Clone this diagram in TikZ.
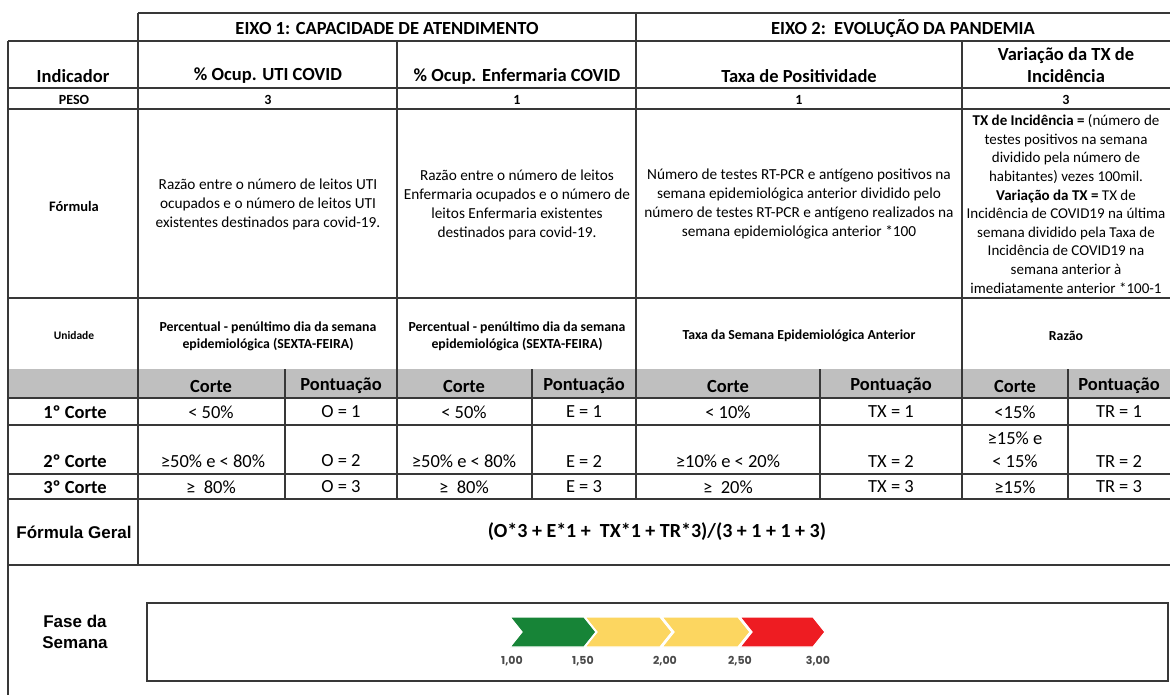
\documentclass[tikz,border=0pt]{standalone}
\usepackage{fontspec}
\setmainfont{Carlito}
\newfontfamily\arialfont{Liberation Sans}
\newfontfamily\escalafont{Poppins}
\usepackage{tikz}
\definecolor{linha}{HTML}{383838}
\definecolor{cinza}{HTML}{BFBFBF}
\definecolor{verde}{HTML}{178437}
\definecolor{amarelo}{HTML}{FCD660}
\definecolor{vermelho}{HTML}{EE1C22}
\definecolor{rotulo}{HTML}{4A4A4A}

\begin{document}
\begin{tikzpicture}[x=1pt,y=-1pt,
		cab/.style={font=\fontsize{18.5}{22}\selectfont\bfseries,align=center,inner sep=0pt},
		peso/.style={font=\fontsize{14}{16}\selectfont\bfseries,inner sep=0pt},
		texto/.style={font=\fontsize{15.3}{19}\selectfont,align=center,inner sep=0pt},
		unid/.style={font=\fontsize{13.8}{17}\selectfont\bfseries,align=center,inner sep=0pt},
		dado/.style={font=\fontsize{18.5}{23}\selectfont,align=center,inner sep=0pt},
		arial/.style={font=\arialfont\fontsize{17}{20.5}\selectfont\bfseries,align=center,inner sep=0pt},
		faixa/.style={draw=white,line width=1.2pt},
		escala/.style={font=\escalafont\fontsize{11}{13}\selectfont\bfseries,text=rotulo,inner sep=0pt}]
		\useasboundingbox (0,0) rectangle (1170,695);
		% faixa cinza dos cortes
		\fill [cinza] (8,369) rectangle (1170,398);
		% grade da tabela
		\draw [linha,line width=1.3pt]
		(138,13) -- (1170,13)
		(8,41) -- (1170,41)
		(8,88) -- (1170,88)
		(8,109) -- (1170,109)
		(8,298) -- (1170,298)
		(8,398) -- (1170,398)
		(8,425) -- (1170,425)
		(8,474) -- (1170,474)
		(8,499) -- (1170,499)
		(8,565) -- (1170,565)
		(8,41) -- (8,695)
		(138,13) -- (138,565)
		(636,13) -- (636,499)
		(397,41) -- (397,499)
		(962,41) -- (962,499)
		(285,369) -- (285,499)
		(532,369) -- (532,499)
		(820,369) -- (820,499)
		(1068,369) -- (1068,499);
		\draw [linha,line width=1.3pt] (147,603) rectangle (1168,681);
		% cabecalhos
		\node [cab] (eixoA) at (387,29) {EIXO 1: CAPACIDADE DE ATENDIMENTO};
		\node [cab] (eixoB) at (903,29) {EIXO 2:\ \ EVOLUÇÃO DA PANDEMIA};
		\node [cab] (indicador) at (73,76) {Indicador};
		\node [cab] (utiInd) at (268,76) {\% Ocup. UTI COVID};
		\node [cab] (enfInd) at (517,76) {\% Ocup. Enfermaria COVID};
		\node [cab] (taxInd) at (799,76) {Taxa de Positividade};
		\node [cab] (varInd) at (1066,65) {Variação da TX de\\Incidência};
		% pesos
		\node [peso] (pesoLbl) at (74,99.5) {PESO};
		\node [peso] (pesoUti) at (268,99.5) {3};
		\node [peso] (pesoEnf) at (517,99.5) {1};
		\node [peso] (pesoTax) at (799,99.5) {1};
		\node [peso] (pesoVar) at (1066,99.5) {3};
		% formulas
		\node [peso,font=\fontsize{14.5}{17}\selectfont\bfseries] (formLbl) at (74,206) {Fórmula};
		\node [texto] (formUti) at (268,204) {Razão entre o número de leitos UTI\\ocupados e o número de leitos UTI\\existentes destinados para covid-19.};
		\node [texto] (formEnf) at (517,205) {Razão entre o número de leitos\\Enfermaria ocupados e o número de\\leitos Enfermaria existentes\\destinados para covid-19.};
		\node [texto] (formTax) at (799,204) {Número de testes RT-PCR e antígeno positivos na\\semana epidemiológica anterior dividido pelo\\número de testes RT-PCR e antígeno realizados na\\semana epidemiológica anterior *100};
		\node [texto,font=\fontsize{15}{18.6}\selectfont] (formVar) at (1066,204) {\textbf{TX de Incidência =} (número de\\testes positivos na semana\\dividido pela número de\\habitantes) vezes 100mil.\\\textbf{Variação da TX =} TX de\\Incidência de COVID19 na última\\semana dividido pela Taxa de\\Incidência de COVID19 na\\semana anterior à\\imediatamente anterior *100-1};
		% unidades
		\node [peso,font=\fontsize{11.5}{14}\selectfont\bfseries] (uniLbl) at (74,336) {Unidade};
		\node [unid] (uniUti) at (268,336) {Percentual - penúltimo dia da semana\\epidemiológica (SEXTA-FEIRA)};
		\node [unid] (uniEnf) at (517,336) {Percentual - penúltimo dia da semana\\epidemiológica (SEXTA-FEIRA)};
		\node [unid] (uniTax) at (799,336) {Taxa da Semana Epidemiológica Anterior};
		\node [unid] (uniVar) at (1066,336) {Razão};
		% linha cinza
		\node [cab] (corteUti) at (211,386) {Corte};
		\node [cab] (pontUti) at (341,386) {Pontuação};
		\node [cab] (corteEnf) at (464,386) {Corte};
		\node [cab] (pontEnf) at (584,386) {Pontuação};
		\node [cab] (corteTax) at (728,386) {Corte};
		\node [cab] (pontTax) at (891,386) {Pontuação};
		\node [cab] (corteVar) at (1015,386) {Corte};
		\node [cab] (pontVar) at (1119,386) {Pontuação};
		% cortes
		\node [dado,font=\fontsize{18.5}{23}\selectfont\bfseries] (c1) at (75,412) {1º Corte};
		\node [dado] (c1a) at (211,412) {< 50\%};
		\node [dado] (c1b) at (341,412) {O = 1};
		\node [dado] (c1c) at (464,412) {< 50\%};
		\node [dado] (c1d) at (584,412) {E = 1};
		\node [dado] (c1e) at (728,412) {< 10\%};
		\node [dado] (c1f) at (891,412) {TX = 1};
		\node [dado] (c1g) at (1015,412) {<15\%};
		\node [dado] (c1h) at (1119,412) {TR = 1};
		\node [dado,font=\fontsize{18.5}{23}\selectfont\bfseries] (c2) at (75,461) {2º Corte};
		\node [dado] (c2a) at (213,461) {≥50\% e < 80\%};
		\node [dado] (c2b) at (341,461) {O = 2};
		\node [dado] (c2c) at (464,461) {≥50\% e < 80\%};
		\node [dado] (c2d) at (584,461) {E = 2};
		\node [dado] (c2e) at (728,461) {≥10\% e < 20\%};
		\node [dado] (c2f) at (891,461) {TX = 2};
		\node [dado] (c2g) at (1015,449.5) {≥15\% e\\< 15\%};
		\node [dado] (c2h) at (1119,461) {TR = 2};
		\node [dado,font=\fontsize{18.5}{23}\selectfont\bfseries] (c3) at (75,487) {3º Corte};
		\node [dado] (c3a) at (211,487) {≥\ \ 80\%};
		\node [dado] (c3b) at (341,487) {O = 3};
		\node [dado] (c3c) at (464,487) {≥\ \ 80\%};
		\node [dado] (c3d) at (584,487) {E = 3};
		\node [dado] (c3e) at (728,487) {≥\ \ 20\%};
		\node [dado] (c3f) at (891,487) {TX = 3};
		\node [dado] (c3g) at (1015,487) {≥15\%};
		\node [dado] (c3h) at (1119,487) {TR = 3};
		% formula geral
		\node [arial] (geralLbl) at (74,532) {Fórmula Geral};
		\node [cab,font=\fontsize{20}{24}\selectfont\bfseries] (geral) at (657,532) {(O*3 + E*1 +\ \ TX*1 + TR*3)/(3 + 1 + 1 + 3)};
		% fase da semana
		\node [arial] (faseLbl) at (75,632) {Fase da\\Semana};
		\fill [verde,faixa] (510,617) -- (584,617) -- (596,632) -- (584,647) -- (510,647) -- (522,632) -- cycle;
		\fill [amarelo,faixa] (585,617) -- (660,617) -- (672,632) -- (660,647) -- (585,647) -- (597,632) -- cycle;
		\fill [amarelo,faixa] (662,617) -- (738,617) -- (750,632) -- (738,647) -- (662,647) -- (674,632) -- cycle;
		\fill [vermelho,faixa] (740,617) -- (813,617) -- (825,632) -- (813,647) -- (740,647) -- (752,632) -- cycle;
		\node [escala] (v100) at (512,661) {1,00};
		\node [escala] (v150) at (583,661) {1,50};
		\node [escala] (v200) at (665,661) {2,00};
		\node [escala] (v250) at (740,661) {2,50};
		\node [escala] (v300) at (818,661) {3,00};
	\end{tikzpicture}
\end{document}
